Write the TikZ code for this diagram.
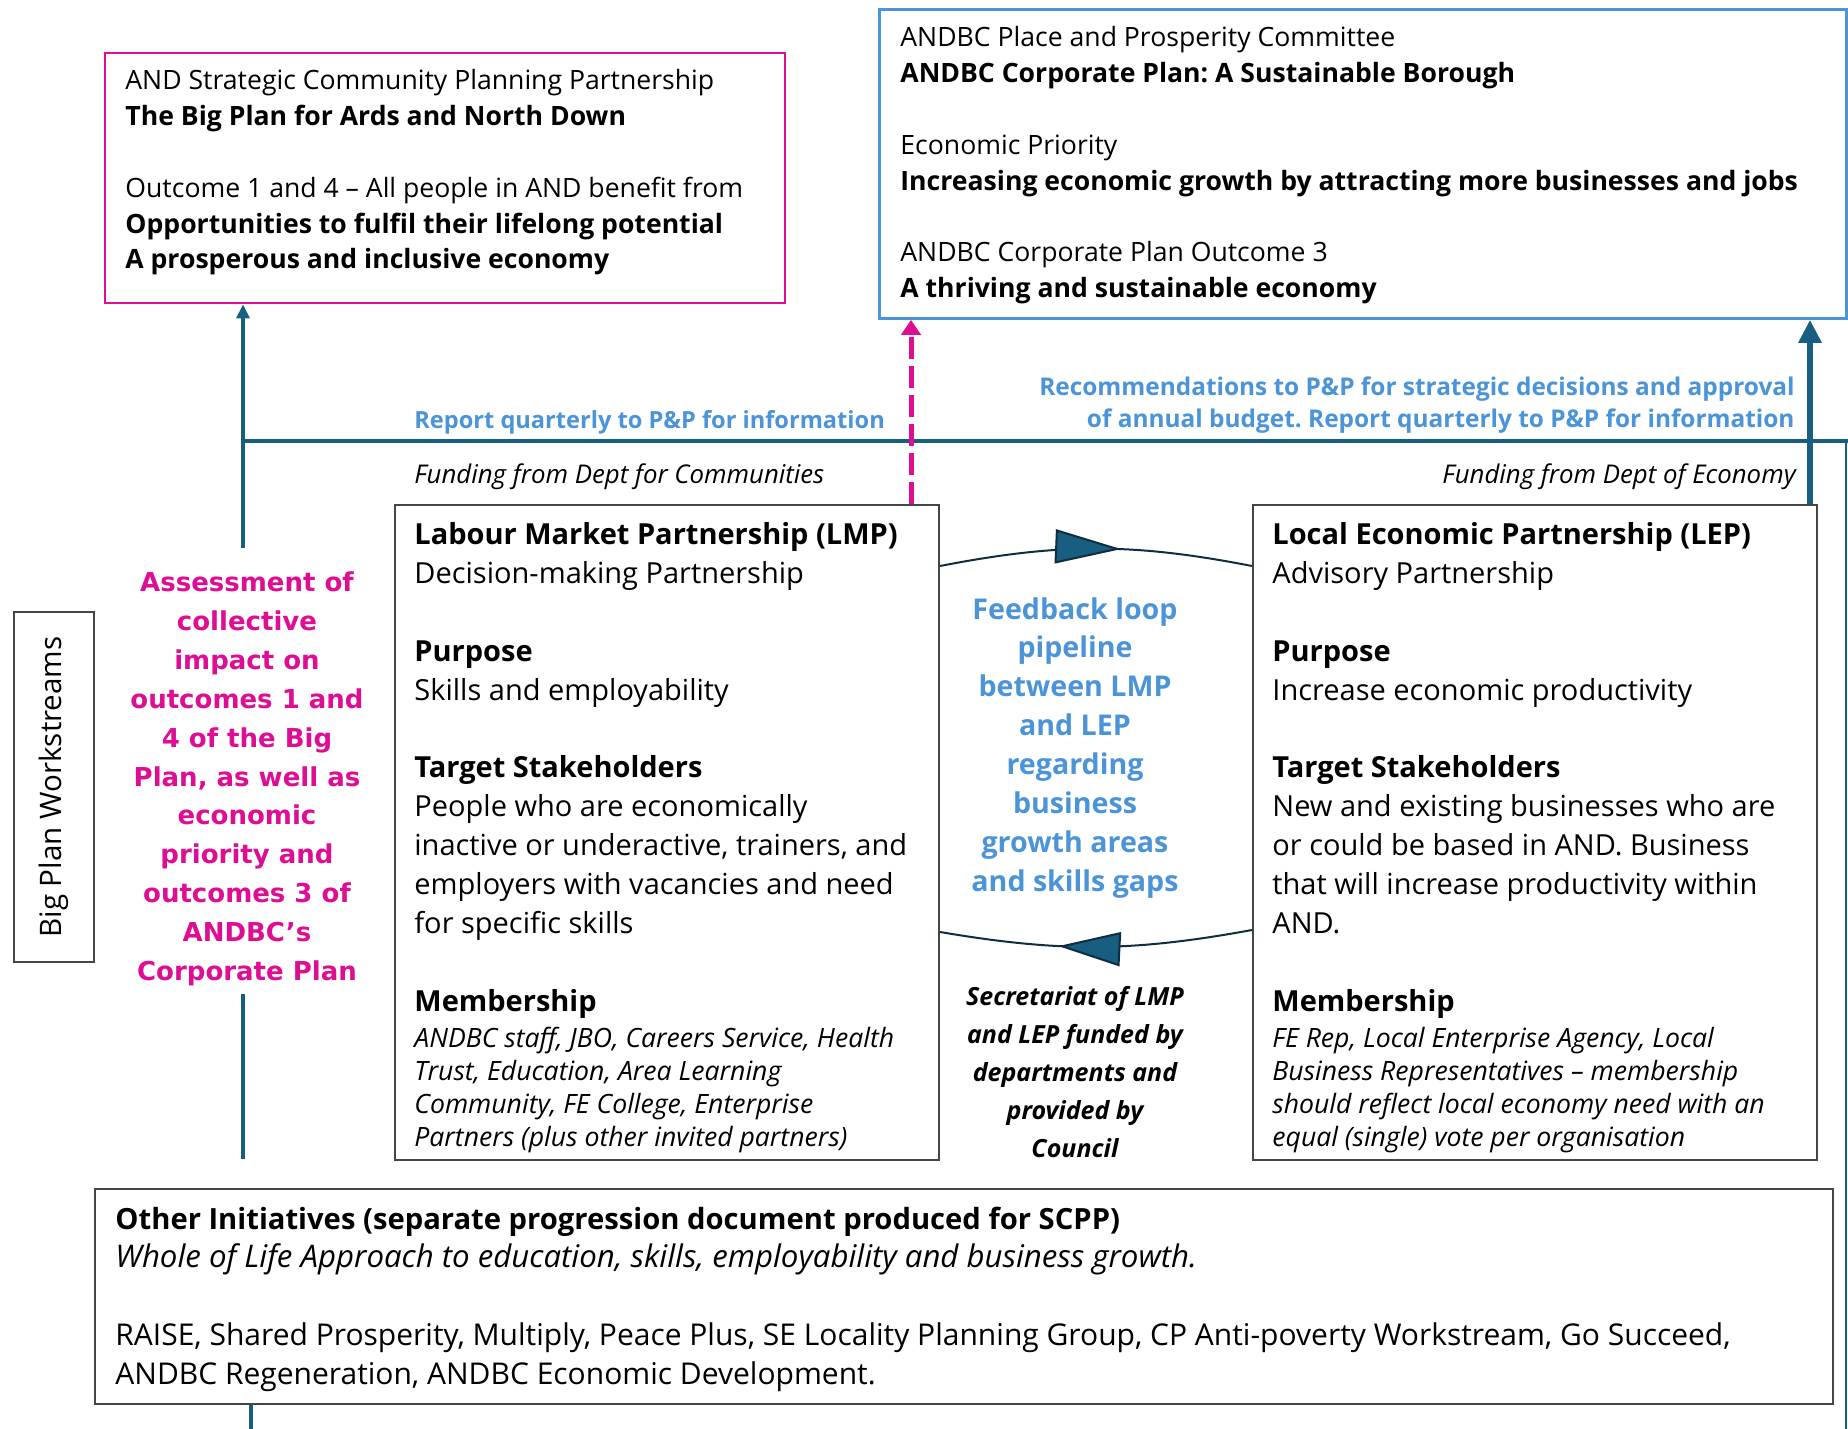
\documentclass[tikz,border=0pt]{standalone}
\usepackage{fontspec}
\setmainfont{Open Sans}
\newfontfamily\heavyfont{DejaVu Sans}
\usetikzlibrary{arrows.meta,decorations.markings,calc}
\definecolor{mag}{RGB}{222,14,148}
\definecolor{lblue}{RGB}{76,148,216}
\definecolor{tealc}{RGB}{24,94,128}
\definecolor{arcc}{RGB}{15,45,65}
\definecolor{boxg}{RGB}{70,70,70}
\newcommand\lft[1]{\begin{tabular}[t]{@{}l@{}}#1\end{tabular}}
\newcommand\ctr[1]{\begin{tabular}[t]{@{}c@{}}#1\end{tabular}}
\newcommand\rgt[1]{\begin{tabular}[t]{@{}r@{}}#1\end{tabular}}
\frenchspacing
\begin{document}
\begin{tikzpicture}[x=0.5pt,y=-0.5pt,
  box/.style={draw=boxg,line width=1pt,anchor=north west,inner sep=0pt},
  txt/.style={inner sep=0pt,anchor=base west},
  topfont/.style={font=\fontsize{13.3pt}{17.9pt}\selectfont},
  bodyfont/.style={font=\fontsize{14.5pt}{19.45pt}\selectfont},
  memfont/.style={font=\fontsize{13.3pt}{16.5pt}\selectfont\itshape},
  tealline/.style={draw=tealc,line width=2pt},
  arcline/.style={draw=arcc,line width=1pt}]
\useasboundingbox (0,0) rectangle (1848,1429);
\fill[white] (0,0) rectangle (1848,1429);

% ---- boxes
\node[box,draw=mag,line width=1.2pt,minimum width=340pt,minimum height=125pt] (scpp) at (104,52) {};
\node[box,draw=lblue,line width=1.4pt,minimum width=483.5pt,minimum height=154.5pt] (pp) at (878,8) {};
\node[box,minimum width=272pt,minimum height=327.5pt] (lmp) at (394,504) {};
\node[box,minimum width=282pt,minimum height=327.5pt] (lep) at (1252,504) {};
\node[box,minimum width=869pt,minimum height=107.5pt] (other) at (94,1188) {};
\node[draw=boxg,line width=1pt,inner sep=0pt,rotate=90,minimum width=175pt,minimum height=40pt,
      font=\fontsize{14.8pt}{17pt}\selectfont] (bpw) at (54,787) {Big Plan Workstreams};

% ---- box texts
\node[txt,topfont] (scpptxt) at (125,90) {\lft{AND Strategic Community Planning Partnership\\
\textbf{The Big Plan for Ards and North Down}\\ \\
Outcome 1 and 4 – All people in AND benefit from\\
\textbf{Opportunities to fulfil their lifelong potential}\\
\textbf{A prosperous and inclusive economy}}};

\node[txt,topfont] (pptxt) at (900,47) {\lft{ANDBC Place and Prosperity Committee\\
\textbf{ANDBC Corporate Plan: A Sustainable Borough}\\ \\
Economic Priority\\
\textbf{Increasing economic growth by attracting more businesses and jobs}\\ \\
ANDBC Corporate Plan Outcome 3\\
\textbf{A thriving and sustainable economy}}};

\node[txt,bodyfont] (lmptxt) at (414,544.5) {\lft{\textbf{Labour Market Partnership (LMP)}\\
Decision-making Partnership\\ \\
\textbf{Purpose}\\
Skills and employability\\ \\
\textbf{Target Stakeholders}\\
People who are economically\\
inactive or underactive, trainers, and\\
employers with vacancies and need\\
for specific skills\\ \\
\textbf{Membership}}};
\node[txt,memfont] (lmpmem) at (414,1047) {\lft{ANDBC staff, JBO, Careers Service, Health\\
Trust, Education, Area Learning\\
Community, FE College, Enterprise\\
Partners (plus other invited partners)}};

\node[txt,bodyfont] (leptxt) at (1272,544.5) {\lft{\textbf{Local Economic Partnership (LEP)}\\
Advisory Partnership\\ \\
\textbf{Purpose}\\
Increase economic productivity\\ \\
\textbf{Target Stakeholders}\\
New and existing businesses who are\\
or could be based in AND. Business\\
that will increase productivity within\\
AND.\\ \\
\textbf{Membership}}};
\node[txt,memfont] (lepmem) at (1272,1047) {\lft{FE Rep, Local Enterprise Agency, Local\\
Business Representatives – membership\\
should reflect local economy need with an\\
equal (single) vote per organisation}};

\node[txt,font=\fontsize{15pt}{19.4pt}\selectfont] (othertxt) at (115,1229) {\lft{\fontsize{14.6pt}{19.4pt}\selectfont\textbf{Other Initiatives (separate progression document produced for SCPP)}\\
\fontsize{15.6pt}{19.4pt}\selectfont\textit{Whole of Life Approach to education, skills, employability and business growth.}\\ \\
RAISE, Shared Prosperity, Multiply, Peace Plus, SE Locality Planning Group, CP Anti-poverty Workstream, Go Succeed,\\
ANDBC Regeneration, ANDBC Economic Development.}};

% ---- free labels
\node[inner sep=0pt,anchor=base,text=mag,font=\fontsize{13pt}{19.45pt}\selectfont\heavyfont\bfseries] (assess) at (247,591.5)
  {\ctr{Assessment of\\collective\\impact on\\outcomes 1 and\\4 of the Big\\Plan, as well as\\economic\\priority and\\outcomes 3 of\\ANDBC’s\\Corporate Plan}};

\node[inner sep=0pt,anchor=base,text=lblue,font=\fontsize{14.3pt}{19.45pt}\selectfont\bfseries] (feedback) at (1075,619)
  {\ctr{Feedback loop\\pipeline\\between LMP\\and LEP\\regarding\\business\\growth areas\\and skills gaps}};

\node[inner sep=0pt,anchor=base,font=\fontsize{12.5pt}{19pt}\selectfont\bfseries\itshape] (secr) at (1075,1005.5)
  {\ctr{Secretariat of LMP\\and LEP funded by\\departments and\\provided by\\Council}};

\node[txt,text=lblue,font=\fontsize{11.8pt}{16pt}\selectfont\bfseries] (rep) at (414,428) {Report quarterly to P\&P for information};
\node[inner sep=0pt,anchor=base east,text=lblue,font=\fontsize{12.2pt}{16pt}\selectfont\bfseries] (recom) at (1795,395)
  {\rgt{Recommendations to P\&P for strategic decisions and approval\\of annual budget. Report quarterly to P\&P for information}};
\node[txt,font=\fontsize{12.9pt}{16pt}\selectfont\itshape] (fundc) at (414,483) {Funding from Dept for Communities};
\node[inner sep=0pt,anchor=base east,font=\fontsize{12.9pt}{16pt}\selectfont\itshape] (funde) at (1796,483) {Funding from Dept of Economy};

% ---- connector coordinates
\coordinate (a1) at (243,548);
\coordinate (a2) at (243,994);
\coordinate (a3) at (243,1159);
\coordinate (hl) at (243,441);
\coordinate (hr) at (1848,441);
\coordinate (rv) at (1846,1429);
\coordinate (b1) at (251,1429);
\coordinate (dx) at (911,0);
\coordinate (tx) at (1810,0);

% ---- connectors
\draw[tealline,-{Triangle[length=7pt,width=6.5pt]}] (a1) -- (a1 |- scpp.south);
\draw[tealline] (hl) -- (hr);
\draw[draw=tealc,line width=1.3pt] (rv |- hl) -- (rv);
\draw[tealline] (a2) -- (a3);
\draw[tealline] (b1 |- other.south) -- (b1);
\draw[draw=mag,line width=2.5pt,dash pattern=on 11pt off 3.5pt,-{Triangle[length=7.5pt,width=9.5pt]}]
  (lmp.north -| dx) -- (pp.south -| dx);
\draw[draw=tealc,line width=3pt,-{Triangle[length=11.5pt,width=11pt]}]
  (lep.north -| tx) -- (pp.south -| tx);

\draw[arcline,postaction={decorate},decoration={markings,mark=at position 0.58 with
  {\arrow{Triangle[length=33pt,width=17pt,fill=tealc]}}}]
  ($(lmp.north east)+(0,62)$) to[bend left=11] ($(lep.north west)+(0,62)$);
\draw[arcline,postaction={decorate},decoration={markings,mark=at position 0.62 with
  {\arrow{Triangle[length=31pt,width=17pt,fill=tealc]}}}]
  ($(lep.north west)+(0,426)$) to[bend left=10] ($(lmp.north east)+(0,428)$);
\end{tikzpicture}
\end{document}
